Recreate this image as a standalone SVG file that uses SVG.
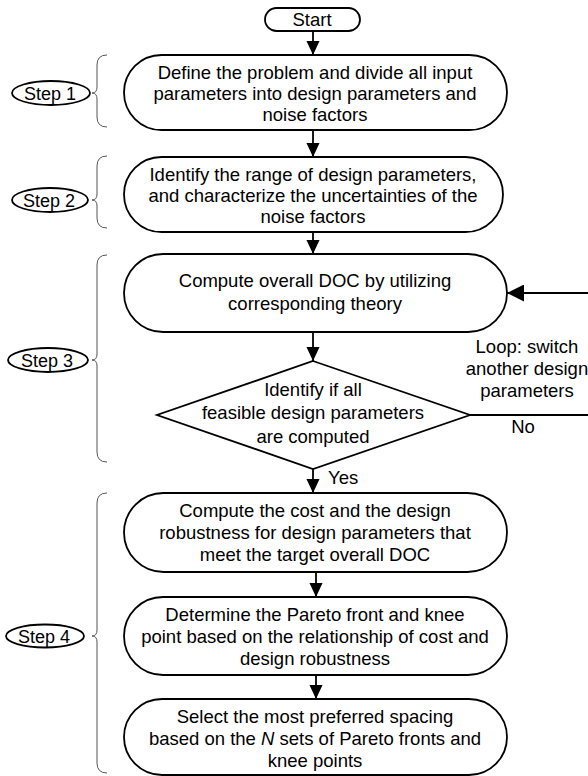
<svg xmlns="http://www.w3.org/2000/svg" width="588" height="776" viewBox="0 0 588 776">
<defs>
<marker id="ah" markerWidth="14" markerHeight="16" refX="15" refY="7" orient="auto" markerUnits="userSpaceOnUse" viewBox="0 0 15 14">
<path d="M0,0 L15,7 L0,14 Z" fill="#000"/>
</marker>
<marker id="ahb" markerWidth="17" markerHeight="17" refX="17" refY="8.5" orient="auto" markerUnits="userSpaceOnUse" viewBox="0 0 17 17">
<path d="M0,0 L17,8.5 L0,17 Z" fill="#000"/>
</marker>
<style>
text{font-family:"Liberation Sans",Arial,sans-serif;font-size:18.5px;fill:#000;text-anchor:middle}
.n{fill:#fff;stroke:#000;stroke-width:1.8}
.c{fill:none;stroke:#000;stroke-width:1.8}
.b{fill:none;stroke:#555;stroke-width:1}
.s{font-size:18px}
.l{text-anchor:start}
</style>
</defs>
<g id="connectors">
<line class="c" x1="313" y1="31" x2="313" y2="55" marker-end="url(#ah)"/>
<line class="c" x1="313" y1="130" x2="313" y2="157" marker-end="url(#ah)"/>
<line class="c" x1="313" y1="232" x2="313" y2="254" marker-end="url(#ah)"/>
<line class="c" x1="313" y1="332" x2="313" y2="361" marker-end="url(#ah)"/>
<line class="c" x1="313" y1="469" x2="313" y2="493" marker-end="url(#ah)"/>
<line class="c" x1="316" y1="572" x2="316" y2="597" marker-end="url(#ah)"/>
<line class="c" x1="316" y1="675" x2="316" y2="699" marker-end="url(#ah)"/>
<polyline class="c" points="470,415 592,415 592,293 507,293" marker-end="url(#ahb)"/>
<text x="527" y="353">Loop: switch</text>
<text x="527" y="375">another design</text>
<text x="527" y="397">parameters</text>
<text x="523" y="433">No</text>
<text x="328" y="484" class="l">Yes</text>
</g>
<g id="start">
<rect class="n" x="265" y="8" width="95" height="23" rx="11.5"/>
<text x="312" y="26">Start</text>
</g>
<g id="box1">
<rect class="n" x="124" y="55" width="383" height="75" rx="37.5"/>
<text x="315" y="79">Define the problem and divide all input</text>
<text x="315" y="100">parameters into design parameters and</text>
<text x="315" y="121">noise factors</text>
</g>
<g id="box2">
<rect class="n" x="124" y="157" width="379" height="75" rx="37.5"/>
<text x="313" y="181">Identify the range of design parameters,</text>
<text x="313" y="202">and characterize the uncertainties of the</text>
<text x="313" y="223">noise factors</text>
</g>
<g id="box3">
<rect class="n" x="124" y="254" width="383" height="78" rx="39"/>
<text x="315" y="287">Compute overall DOC by utilizing</text>
<text x="315" y="310">corresponding theory</text>
</g>
<g id="decision">
<polygon class="n" points="313,361 470,415 313,469 157,415"/>
<text x="313" y="396">Identify if all</text>
<text x="313" y="419">feasible design parameters</text>
<text x="313" y="443">are computed</text>
</g>
<g id="box4">
<rect class="n" x="124" y="493" width="383" height="79" rx="39.5"/>
<text x="315" y="517">Compute the cost and the design</text>
<text x="315" y="539">robustness for design parameters that</text>
<text x="315" y="561">meet the target overall DOC</text>
</g>
<g id="box5">
<rect class="n" x="124" y="597" width="383" height="78" rx="39"/>
<text x="315" y="621">Determine the Pareto front and knee</text>
<text x="315" y="643">point based on the relationship of cost and</text>
<text x="315" y="665">design robustness</text>
</g>
<g id="box6">
<rect class="n" x="124" y="699" width="383" height="76" rx="38"/>
<text x="315" y="723">Select the most preferred spacing</text>
<text x="315" y="745">based on the <tspan font-style="italic">N</tspan> sets of Pareto fronts and</text>
<text x="315" y="767">knee points</text>
</g>
<g id="step1">
<ellipse class="n" cx="51" cy="93" rx="39" ry="12"/>
<text class="s" x="50" y="99.5">Step 1</text>
<path class="b" d="M107,55 Q97,55 97,65 L97,87 Q97,93 92,93 Q97,93 97,99 L97,117 Q97,127 107,127"/>
</g>
<g id="step2">
<ellipse class="n" cx="50" cy="200" rx="38" ry="12"/>
<text class="s" x="49" y="206.5">Step 2</text>
<path class="b" d="M107,156 Q97,156 97,166 L97,194 Q97,200 92,200 Q97,200 97,206 L97,218 Q97,228 107,228"/>
</g>
<g id="step3">
<ellipse class="n" cx="48" cy="360" rx="40" ry="12"/>
<text class="s" x="47" y="366.5">Step 3</text>
<path class="b" d="M107,255 Q97,255 97,265 L97,354 Q97,360 92,360 Q97,360 97,366 L97,452 Q97,462 107,462"/>
</g>
<g id="step4">
<ellipse class="n" cx="45" cy="636" rx="39" ry="11.5"/>
<text class="s" x="44" y="642.5">Step 4</text>
<path class="b" d="M107,493 Q97,493 97,503 L97,630 Q97,636 92,636 Q97,636 97,642 L97,763 Q97,773 107,773"/>
</g>
</svg>
